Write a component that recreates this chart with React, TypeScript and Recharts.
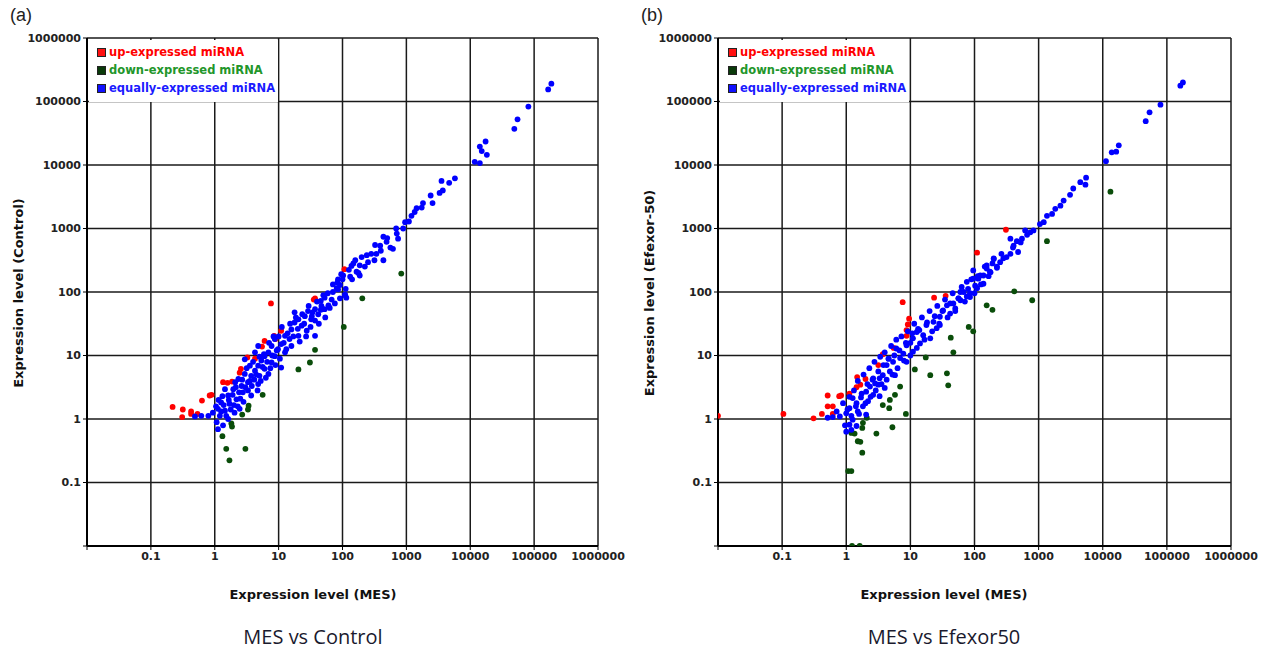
import { ScatterChart, Scatter, XAxis, YAxis, CartesianGrid } from 'recharts'

// every pair below is [log10(MES), log10(other sample)]
const decades = [0.01, 0.1, 1, 10, 100, 1000, 10000, 100000, 1000000]

const upA = [
  [-0.66, 0.19], [-0.5, 0.15], [-0.51, 0.03], [-0.37, 0.12], [-0.37, 0.08], [-0.27, 0.08],
  [-0.2, 0.29], [-0.08, 0.37], [-0.05, 0.38], [0.13, 0.58], [0.2, 0.57], [0.27, 0.59],
  [0.39, 0.73], [0.41, 0.79], [0.51, 0.97], [0.63, 0.95], [0.74, 1.14], [0.78, 1.23],
  [0.88, 1.82], [0.93, 1.31], [0.95, 1.26], [1.04, 1.39], [1.55, 1.88], [1.57, 1.9],
  [2.03, 2.36],
]

const downA = [
  [2.92, 2.29], [2.31, 1.9], [2.02, 1.45], [1.57, 1.09], [1.49, 0.89], [1.31, 0.78],
  [0.75, 0.38], [0.53, 0.21], [0.52, 0.15], [0.43, 0.07], [0.26, -0.07], [0.27, -0.12],
  [0.12, -0.27], [0.18, -0.47], [0.48, -0.47], [0.23, -0.65],
]

const equalA = [
  [5.27, 5.28], [5.22, 5.19], [4.91, 4.92], [4.74, 4.72], [4.69, 4.57], [4.24, 4.37],
  [4.15, 4.29], [4.18, 4.22], [4.26, 4.16], [4.07, 4.05], [4.15, 4.03], [3.76, 3.79],
  [3.67, 3.72], [3.55, 3.75], [3.57, 3.6], [3.52, 3.56], [3.41, 3.4], [3.38, 3.52],
  [3.26, 3.4], [3.24, 3.33], [3.16, 3.32], [3.13, 3.26], [3.08, 3.2], [3.04, 3.11],
  [2.98, 3.1], [2.95, 3.0], [2.84, 3.0], [2.87, 2.84], [2.79, 2.68], [2.64, 2.87],
  [2.69, 2.79], [2.59, 2.73], [2.51, 2.74], [2.53, 2.6], [2.64, 2.5], [2.38, 2.58],
  [2.4, 2.47], [2.27, 2.42], [2.22, 2.32], [2.17, 2.45], [2.27, 2.26], [2.12, 2.24],
  [2.01, 2.26], [1.96, 2.11], [1.91, 2.06], [2.04, 1.95], [2.06, 1.91],
  [2.14, 2.41], [1.98, 2.28], [1.85, 2.12], [1.93, 2.04], [2.04, 1.96], [1.72, 1.91],
  [1.83, 1.88], [1.67, 1.78], [1.57, 1.73], [1.46, 1.7], [1.72, 1.73], [1.78, 1.79],
  [1.62, 1.65], [1.41, 1.62], [1.51, 1.57], [1.31, 1.57], [1.36, 1.47], [1.25, 1.52],
  [1.44, 1.39], [1.57, 1.31], [1.2, 1.41], [1.1, 1.31], [1.17, 1.26], [1.31, 1.31],
  [1.04, 1.18], [1.12, 1.1], [0.99, 1.1], [0.89, 1.15], [0.84, 1.05], [0.94, 0.99],
  [0.78, 0.99], [1.04, 0.81], [0.89, 0.89], [0.73, 0.92], [0.68, 0.84], [0.78, 0.79],
  [0.63, 0.76], [0.55, 0.84], [0.57, 0.68], [0.47, 0.71], [0.7, 0.68], [0.84, 0.71],
  [0.68, 0.55], [0.52, 0.58], [0.42, 0.52], [0.37, 0.63], [0.29, 0.47], [0.44, 0.42],
  [0.57, 0.37], [0.34, 0.31], [0.21, 0.37], [0.16, 0.47], [0.23, 0.24], [0.1, 0.26],
  [0.39, 0.16], [0.31, 0.1], [0.16, 0.13], [0.05, 0.16], [0.08, 0.05], [-0.03, 0.1],
  [-0.1, 0.05], [-0.21, 0.05], [-0.31, 0.04], [0.03, -0.05], [0.05, -0.16], [0.13, -0.1],
  [0.21, 0.0], [0.68, 1.15], [0.47, 0.94], [0.63, 1.05], [0.94, 1.26], [1.25, 1.68],
  [1.93, 2.2], [1.52, 1.62], [1.66, 1.86], [0.32, 0.58], [0.12, 0.36],
  [0.02, 0.2], [0.06, 0.3], [0.1, 0.12], [0.14, 0.22], [0.18, 0.05], [0.22, 0.3],
  [0.25, 0.15], [0.28, 0.38], [0.3, 0.22], [0.33, 0.5], [0.36, 0.2], [0.38, 0.42],
  [0.4, 0.32], [0.43, 0.62], [0.45, 0.27], [0.48, 0.5], [0.5, 0.8], [0.52, 0.45],
  [0.55, 0.6], [0.58, 0.52], [0.6, 0.9], [0.62, 0.62], [0.65, 0.7], [0.67, 0.45],
  [0.7, 0.98], [0.72, 0.6], [0.75, 0.82], [0.77, 1.02], [0.8, 0.65], [0.82, 0.9],
  [0.85, 1.2], [0.87, 0.8], [0.9, 1.0], [0.92, 1.3], [0.95, 0.85], [0.97, 1.08],
  [1.0, 1.3], [1.02, 0.95], [1.05, 1.45], [1.08, 1.2], [1.1, 1.05], [1.14, 1.35],
  [1.18, 1.5], [1.2, 1.15], [1.23, 1.3], [1.27, 1.6], [1.3, 1.42], [1.33, 1.22],
  [1.37, 1.65], [1.4, 1.5], [1.43, 1.3], [1.47, 1.78], [1.5, 1.45], [1.53, 1.68],
  [1.57, 1.55], [1.6, 1.85], [1.63, 1.5], [1.66, 1.72], [1.7, 1.95], [1.73, 1.6],
  [1.77, 1.98], [1.8, 1.75], [1.85, 2.0], [1.88, 1.82], [1.92, 2.15], [1.96, 1.9],
  [2.0, 2.2], [2.05, 2.05], [2.1, 2.35], [2.15, 2.2], [2.2, 2.5], [2.25, 2.3],
  [2.3, 2.55], [2.35, 2.4], [2.45, 2.6], [2.5, 2.5], [2.6, 2.65], [2.7, 2.85],
  [2.75, 2.7], [2.85, 2.92],
]

const upB = [
  [-2.0, 0.05], [-0.98, 0.08], [-0.51, 0.01], [-0.38, 0.08], [-0.29, 0.2], [-0.21, 0.2],
  [-0.29, 0.37], [-0.21, 0.08], [-0.11, 0.36], [-0.08, 0.37], [0.05, 0.4], [0.16, 0.5],
  [0.22, 0.54], [0.3, 0.63], [0.17, 0.66], [0.5, 0.85], [0.57, 1.02], [0.74, 1.12],
  [0.88, 1.84], [0.96, 1.49], [0.94, 1.4], [0.98, 1.58], [0.94, 1.31], [1.37, 1.91],
  [1.55, 1.94], [2.04, 2.62], [2.49, 2.98],
]

const downB = [
  [4.12, 3.58], [3.13, 2.8], [2.9, 1.87], [2.62, 2.01], [2.19, 1.79], [2.28, 1.72],
  [1.91, 1.45], [1.98, 1.38], [1.63, 1.28], [1.67, 1.05], [1.24, 0.97], [1.07, 0.78],
  [1.31, 0.69], [1.57, 0.72], [1.59, 0.53], [0.84, 0.51], [0.76, 0.38], [0.68, 0.3],
  [0.57, 0.22], [0.67, 0.17], [0.93, 0.08], [0.32, 0.02], [0.26, -0.06], [0.25, -0.14],
  [0.08, -0.22], [0.13, -0.23], [0.47, -0.23], [0.72, -0.13], [0.18, -0.35], [0.22, -0.36],
  [0.25, -0.53], [0.03, -0.82], [0.08, -0.82], [0.09, -2.0], [0.21, -2.0],
]

const equalB = [
  [5.25, 5.3], [5.21, 5.25], [4.9, 4.95], [4.73, 4.83], [4.67, 4.69], [4.25, 4.31],
  [4.21, 4.21], [4.14, 4.2], [4.05, 4.06], [3.74, 3.8], [3.65, 3.73], [3.73, 3.69],
  [3.54, 3.63], [3.49, 3.53], [3.39, 3.44], [3.34, 3.36], [3.26, 3.31], [3.21, 3.23],
  [3.13, 3.2], [3.08, 3.1], [3.02, 3.07], [2.92, 2.97], [2.87, 2.94], [2.79, 2.97],
  [2.74, 2.84], [2.66, 2.8], [2.61, 2.73], [2.56, 2.84], [2.68, 2.63], [2.56, 2.6],
  [2.45, 2.53], [2.4, 2.47], [2.3, 2.53], [2.35, 2.4], [2.24, 2.32], [2.19, 2.37],
  [2.14, 2.26], [2.06, 2.21], [1.98, 2.21], [2.04, 2.06], [1.93, 1.98], [1.88, 1.93],
  [1.78, 2.0], [1.75, 1.9],
  [2.3, 2.52], [2.19, 2.42], [2.25, 2.31], [2.09, 2.26], [1.98, 2.34], [2.14, 2.13],
  [2.01, 2.1], [1.88, 2.16], [1.83, 2.0], [1.93, 1.92], [1.78, 1.87], [1.67, 1.82],
  [1.57, 1.79], [1.51, 1.71], [1.62, 1.66], [1.46, 1.61], [1.36, 1.53], [1.41, 1.43],
  [1.25, 1.48], [1.2, 1.32], [1.31, 1.27], [1.1, 1.37], [1.15, 1.19], [1.04, 1.27],
  [0.94, 1.16], [1.04, 1.06], [0.89, 1.03], [0.78, 1.11], [0.84, 0.96], [0.94, 0.9],
  [0.73, 0.9], [0.63, 0.85], [0.68, 0.75], [0.76, 0.69], [0.57, 0.69], [0.52, 0.64],
  [0.42, 0.64], [0.5, 0.54], [0.6, 0.49], [0.37, 0.51], [0.31, 0.43], [0.42, 0.38],
  [0.52, 0.36], [0.23, 0.34], [0.34, 0.28], [0.16, 0.25], [0.1, 0.33], [0.26, 0.2],
  [0.05, 0.17], [0.18, 0.12], [0.31, 0.07], [0.0, 0.09], [-0.1, 0.04], [-0.21, 0.03],
  [-0.29, 0.02], [0.1, -0.01], [0.05, -0.09], [0.16, -0.11], [0.08, -0.17],
  [1.7, 1.74], [1.45, 1.5], [1.0, 1.2], [0.66, 0.95], [0.45, 0.56], [1.12, 1.42],
  [0.02, 0.15], [0.05, 0.35], [0.08, 0.05], [0.12, 0.45], [0.15, 0.2], [0.18, 0.6],
  [0.2, 0.08], [0.24, 0.4], [0.27, 0.7], [0.3, 0.25], [0.33, 0.55], [0.36, 0.8],
  [0.38, 0.35], [0.41, 0.62], [0.44, 0.9], [0.46, 0.45], [0.5, 0.75], [0.53, 0.98],
  [0.55, 0.55], [0.58, 0.85], [0.6, 1.05], [0.63, 0.62], [0.66, 0.95], [0.7, 1.15],
  [0.72, 0.7], [0.75, 1.0], [0.78, 1.25], [0.8, 0.8], [0.83, 1.08], [0.86, 1.3],
  [0.9, 0.92], [0.93, 1.2], [0.96, 1.38], [1.0, 1.0], [1.03, 1.35], [1.06, 1.5],
  [1.1, 1.12], [1.14, 1.4], [1.18, 1.6], [1.22, 1.25], [1.26, 1.52], [1.3, 1.7],
  [1.34, 1.38], [1.38, 1.62], [1.42, 1.78], [1.46, 1.48], [1.5, 1.7], [1.54, 1.88],
  [1.58, 1.6], [1.62, 1.82], [1.66, 1.98], [1.7, 1.7], [1.75, 1.9], [1.8, 2.08],
  [1.85, 1.85], [1.9, 2.05], [1.95, 2.2], [2.0, 1.98], [2.05, 2.25], [2.1, 2.12],
  [2.16, 2.4], [2.22, 2.25], [2.28, 2.45], [2.35, 2.38], [2.42, 2.6], [2.5, 2.55],
  [2.6, 2.7], [2.72, 2.78], [2.82, 2.9], [-0.15, 0.12], [-0.05, 0.25], [-0.02, -0.1],
  [0.0, -0.2],
]

const RED = '#ff0000'
const GREEN = '#0a4d0a'
const BLUE = '#0000ff'

const toPoints = (pairs: number[][]) => pairs.map(([lx, ly]) => ({ x: 10 ** lx, y: 10 ** ly }))

const dot = (color: string) => (props: any) => (
  <circle cx={props.cx} cy={props.cy} r={2.9} fill={color} />
)

const fmt = (v: number) => (v < 0.05 ? '' : String(v))
const tickStyle = { fill: '#222', fontSize: 11, fontWeight: 700, fontFamily: 'DejaVu Sans' }

function Legend() {
  const rows = [
    { label: 'up-expressed miRNA', box: '#ff1010', text: '#ff0000' },
    { label: 'down-expressed miRNA', box: '#0a3a0a', text: '#22962a' },
    { label: 'equally-expressed miRNA', box: '#1010ff', text: '#1a1aff' },
  ]
  return (
    <div
      style={{
        position: 'absolute', left: 89, top: 40, width: 189, height: 62, background: '#fff',
        fontFamily: 'DejaVu Sans', fontWeight: 700, fontSize: 11.5,
      }}
    >
      {rows.map((r, i) => (
        <div key={r.label} style={{ position: 'absolute', left: 8, top: 5 + i * 18, display: 'flex', alignItems: 'center', whiteSpace: 'nowrap' }}>
          <span style={{ width: 7, height: 7, background: r.box, border: '1px solid #222', marginRight: 3 }} />
          <span style={{ color: r.text }}>{r.label}</span>
        </div>
      ))}
    </div>
  )
}

function Panel({ left, letter, up, down, equal, yLabel, title, plotWidth }: any) {
  return (
    <div style={{ position: 'absolute', left, top: 0, width: 632, height: 650 }}>
      <ScatterChart width={87 + plotWidth + 32} height={574} margin={{ top: 38, right: 32, bottom: 6, left: 0 }}>
        <CartesianGrid stroke="#1a1a1a" strokeWidth={1.5} />
        <XAxis
          type="number" dataKey="x" scale="log" domain={[0.01, 1000000]} ticks={decades}
          tickFormatter={fmt} allowDataOverflow height={22} tick={tickStyle} tickSize={4}
          axisLine={{ stroke: '#000', strokeWidth: 2 }} tickLine={{ stroke: '#000' }} interval={0}
        />
        <YAxis
          type="number" dataKey="y" scale="log" domain={[0.01, 1000000]} ticks={decades}
          tickFormatter={fmt} allowDataOverflow width={87} tick={tickStyle} tickSize={4}
          axisLine={{ stroke: '#000', strokeWidth: 2 }} tickLine={{ stroke: '#000' }} interval={0}
        />
        <Scatter data={toPoints(up)} shape={dot(RED)} isAnimationActive={false} />
        <Scatter data={toPoints(down)} shape={dot(GREEN)} isAnimationActive={false} />
        <Scatter data={toPoints(equal)} shape={dot(BLUE)} isAnimationActive={false} />
      </ScatterChart>
      <Legend />
      <div style={{ position: 'absolute', left: 10, top: 5, fontFamily: 'Liberation Sans', fontSize: 18, color: '#222' }}>{letter}</div>
      <div
        style={{
          position: 'absolute', left: 18, top: 293, transform: 'translate(-50%, -50%) rotate(-90deg)',
          whiteSpace: 'nowrap', fontFamily: 'DejaVu Sans', fontWeight: 700, fontSize: 13, color: '#111',
        }}
      >
        {yLabel}
      </div>
      <div
        style={{
          position: 'absolute', left: 313, top: 594, transform: 'translate(-50%, -50%)',
          whiteSpace: 'nowrap', fontFamily: 'DejaVu Sans', fontWeight: 700, fontSize: 13, color: '#111',
        }}
      >
        Expression level (MES)
      </div>
      <div
        style={{
          position: 'absolute', left: 313, top: 636, transform: 'translate(-50%, -50%)',
          whiteSpace: 'nowrap', fontFamily: 'Open Sans', fontSize: 20, color: '#1a1a2e',
        }}
      >
        {title}
      </div>
    </div>
  )
}

export default function App() {
  return (
    <div style={{ position: 'absolute', left: 0, top: 0, width: 1263, height: 650, background: '#fff' }}>
      <Panel left={0} letter="(a)" up={upA} down={downA} equal={equalA} yLabel="Expression level (Control)" title="MES vs Control" plotWidth={511} />
      <Panel left={631} letter="(b)" up={upB} down={downB} equal={equalB} yLabel="Expression level (Efexor-50)" title="MES vs Efexor50" plotWidth={513} />
    </div>
  )
}
